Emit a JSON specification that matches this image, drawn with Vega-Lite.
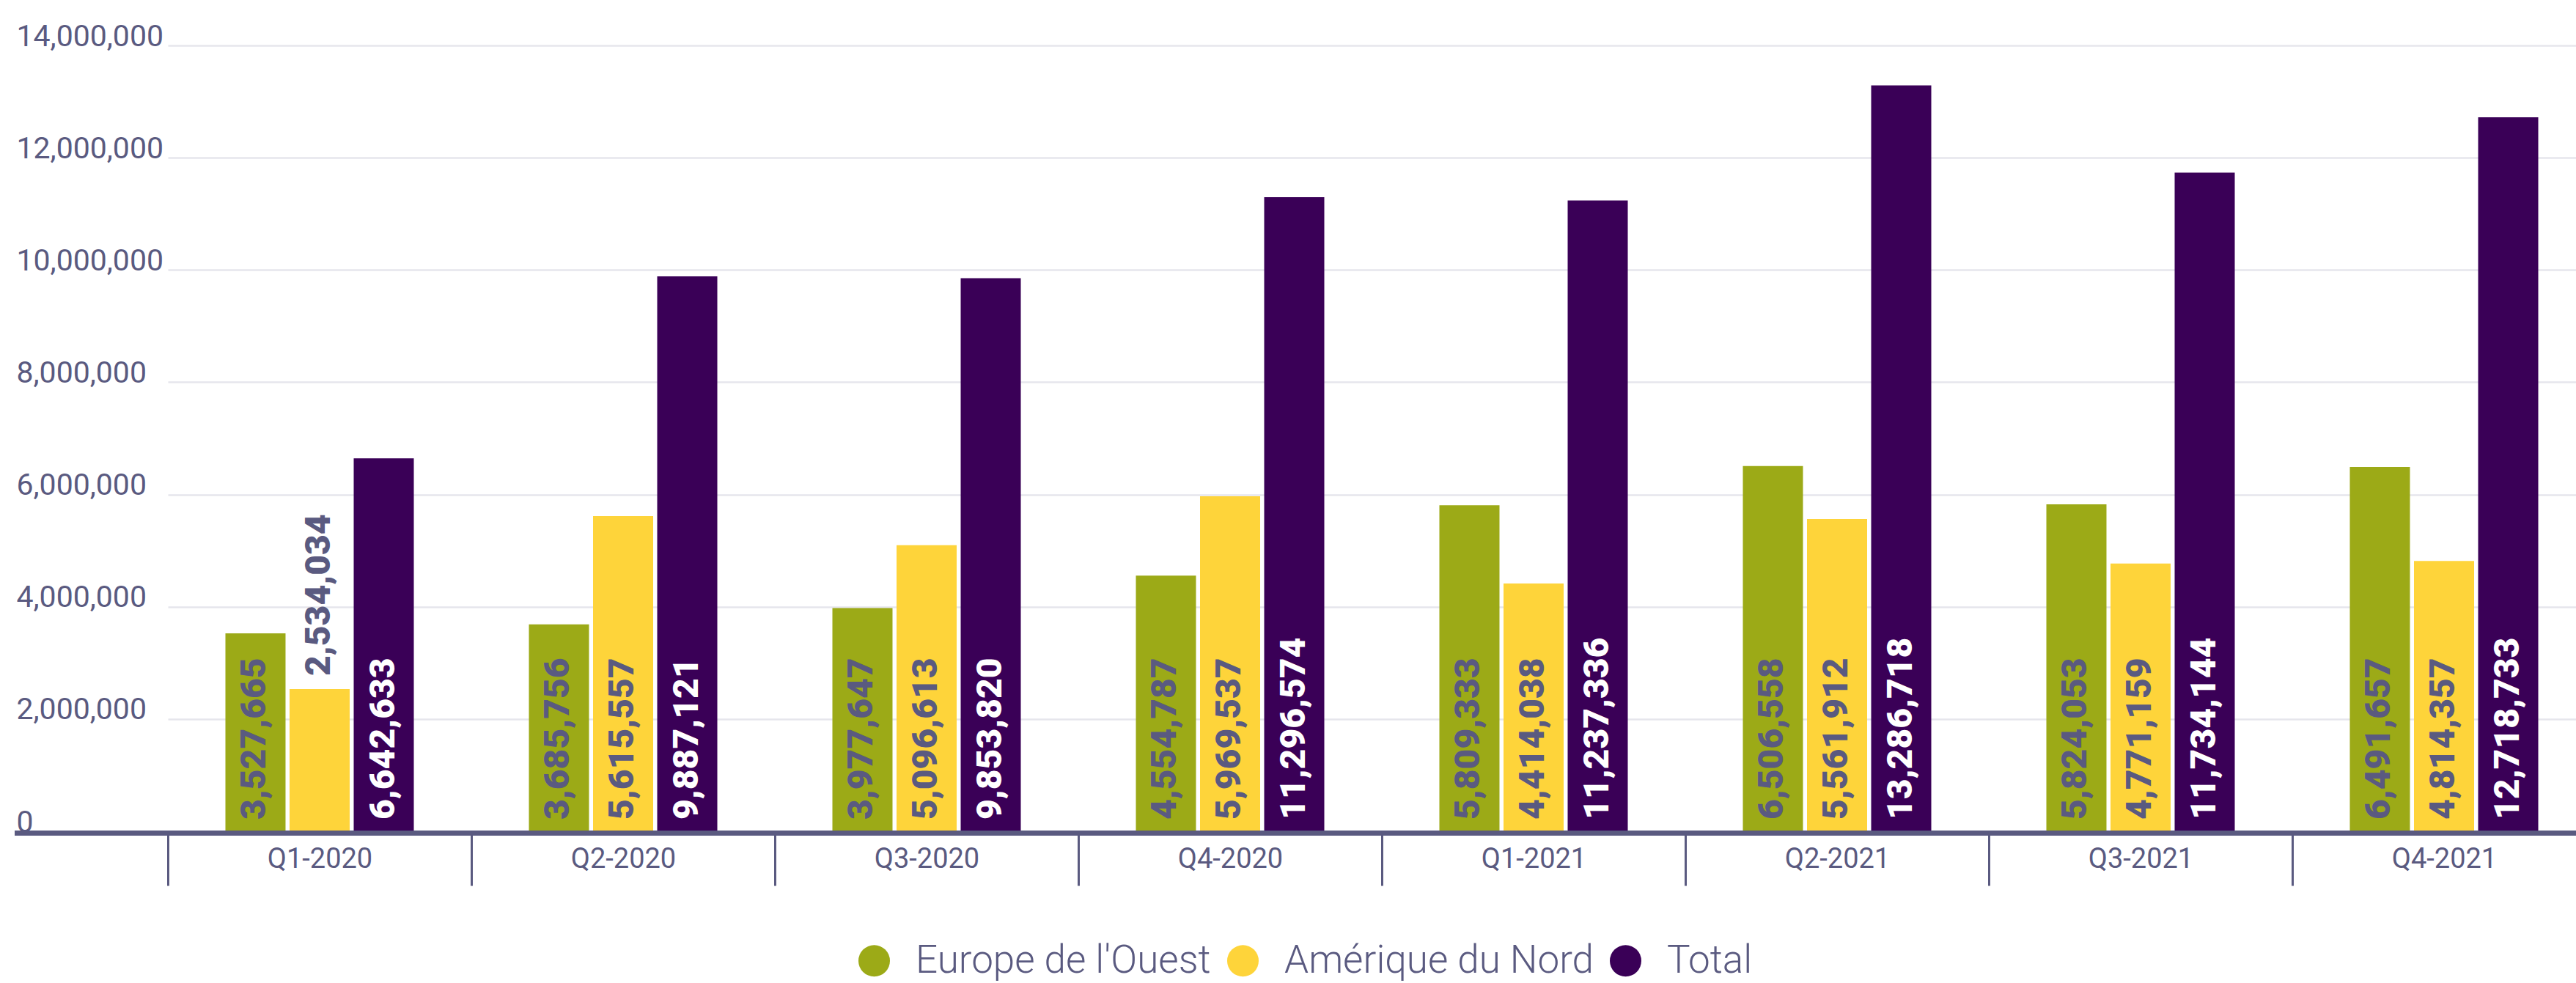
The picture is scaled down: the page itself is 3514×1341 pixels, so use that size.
{
  "$schema": "https://vega.github.io/schema/vega-lite/v6.json",
  "width": 3494,
  "height": 1072,
  "autosize": {"type": "none"},
  "padding": {"left": 20, "top": 62, "right": 0, "bottom": 207},
  "background": "white",
  "config": {"view": {"stroke": null}, "font": "Roboto"},
  "resolve": {"axis": {"x": "independent", "y": "independent"}},
  "data": {
    "values": [
      {"quarter": "Q1-2020", "series": "Europe de l'Ouest", "value": 3527665},
      {"quarter": "Q1-2020", "series": "Amérique du Nord", "value": 2534034},
      {"quarter": "Q1-2020", "series": "Total", "value": 6642633},
      {"quarter": "Q2-2020", "series": "Europe de l'Ouest", "value": 3685756},
      {"quarter": "Q2-2020", "series": "Amérique du Nord", "value": 5615557},
      {"quarter": "Q2-2020", "series": "Total", "value": 9887121},
      {"quarter": "Q3-2020", "series": "Europe de l'Ouest", "value": 3977647},
      {"quarter": "Q3-2020", "series": "Amérique du Nord", "value": 5096613},
      {"quarter": "Q3-2020", "series": "Total", "value": 9853820},
      {"quarter": "Q4-2020", "series": "Europe de l'Ouest", "value": 4554787},
      {"quarter": "Q4-2020", "series": "Amérique du Nord", "value": 5969537},
      {"quarter": "Q4-2020", "series": "Total", "value": 11296574},
      {"quarter": "Q1-2021", "series": "Europe de l'Ouest", "value": 5809333},
      {"quarter": "Q1-2021", "series": "Amérique du Nord", "value": 4414038},
      {"quarter": "Q1-2021", "series": "Total", "value": 11237336},
      {"quarter": "Q2-2021", "series": "Europe de l'Ouest", "value": 6506558},
      {"quarter": "Q2-2021", "series": "Amérique du Nord", "value": 5561912},
      {"quarter": "Q2-2021", "series": "Total", "value": 13286718},
      {"quarter": "Q3-2021", "series": "Europe de l'Ouest", "value": 5824053},
      {"quarter": "Q3-2021", "series": "Amérique du Nord", "value": 4771159},
      {"quarter": "Q3-2021", "series": "Total", "value": 11734144},
      {"quarter": "Q4-2021", "series": "Europe de l'Ouest", "value": 6491657},
      {"quarter": "Q4-2021", "series": "Amérique du Nord", "value": 4814357},
      {"quarter": "Q4-2021", "series": "Total", "value": 12718733}
    ]
  },
  "layer": [
    {
      "mark": {"type": "bar"},
      "encoding": {
        "x": {
          "field": "quarter", "type": "nominal", "sort": null,
          "scale": {"range": [209, 3521], "paddingInner": 0, "paddingOuter": 0},
          "axis": {
            "title": null, "domain": false, "ticks": true, "tickBand": "extent",
            "tickSize": 74, "tickWidth": 3, "tickColor": "#5a5a80",
            "labelFont": "Roboto", "labelFontSize": 38, "labelColor": "#5a5a80",
            "labelAngle": 0, "labelBaseline": "alphabetic", "labelPadding": -25, "grid": false
          }
        },
        "xOffset": {
          "field": "series", "type": "nominal",
          "sort": ["Europe de l'Ouest", "Amérique du Nord", "Total"],
          "scale": {"paddingInner": 0.063, "paddingOuter": 0.897}
        },
        "y": {
          "field": "value", "type": "quantitative",
          "scale": {"domain": [0, 14000000], "nice": false},
          "axis": {
            "title": null, "values": [0, 2000000, 4000000, 6000000, 8000000, 10000000, 12000000, 14000000],
            "format": ",", "labelExpr": "format(datum.value, ',')", "domain": false, "ticks": false,
            "labelAlign": "left", "labelBaseline": "alphabetic", "labelPadding": -2, "labelDy": -12,
            "labelFont": "Roboto", "labelFontSize": 41, "labelColor": "#5a5a80", "labelLimit": 0,
            "grid": true, "gridColor": "#e6e6ec", "gridWidth": 2.5, "labelOverlap": false
          }
        },
        "color": {
          "field": "series", "type": "nominal",
          "sort": ["Europe de l'Ouest", "Amérique du Nord", "Total"],
          "scale": {"domain": ["Europe de l'Ouest", "Amérique du Nord", "Total"], "range": ["#9caa17", "#fed43a", "#3a0057"]},
          "legend": {
            "title": null, "orient": "none", "legendX": 1146, "legendY": 1222,
            "direction": "horizontal", "symbolType": "circle", "symbolSize": 1849,
            "symbolStrokeWidth": 0, "labelFont": "Roboto", "labelFontSize": 53, "labelFontWeight": 300,
            "labelColor": "#5a5a80", "labelOffset": 30, "columnPadding": 17, "padding": 0, "labelLimit": 0
          }
        }
      }
    },
    {
      "mark": {"type": "rule", "color": "#5a5a80", "strokeWidth": 5.5, "yOffset": 2.5},
      "encoding": {"y": {"datum": 0, "type": "quantitative", "axis": null}}
    },
    {
      "transform": [{"filter": "datum.value >= 2600000"}],
      "mark": {"type": "text", "angle": 270, "align": "left", "baseline": "middle", "dx": 16, "font": "Roboto", "fontWeight": 900, "fontSize": 48},
      "encoding": {
        "x": {"field": "quarter", "type": "nominal", "sort": null, "axis": null},
        "xOffset": {"field": "series", "type": "nominal", "sort": ["Europe de l'Ouest", "Amérique du Nord", "Total"]},
        "y": {"datum": 0, "type": "quantitative", "axis": null},
        "text": {"field": "value", "type": "quantitative", "format": ","},
        "color": {"condition": {"test": "datum.series === 'Total'", "value": "#ffffff"}, "value": "#5a5a80"}
      }
    },
    {
      "transform": [{"filter": "datum.value < 2600000"}],
      "mark": {"type": "text", "angle": 270, "align": "left", "baseline": "middle", "dx": 18, "font": "Roboto", "fontWeight": 900, "fontSize": 48, "color": "#5a5a80"},
      "encoding": {
        "x": {"field": "quarter", "type": "nominal", "sort": null, "axis": null},
        "xOffset": {"field": "series", "type": "nominal", "sort": ["Europe de l'Ouest", "Amérique du Nord", "Total"]},
        "y": {"field": "value", "type": "quantitative", "axis": null},
        "text": {"field": "value", "type": "quantitative", "format": ","}
      }
    }
  ]
}
